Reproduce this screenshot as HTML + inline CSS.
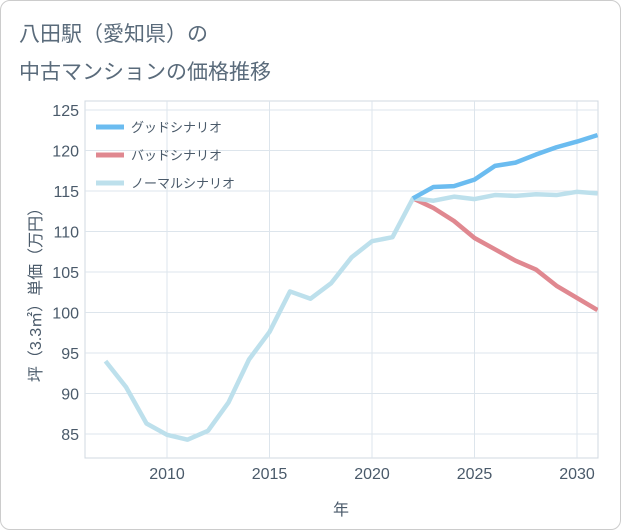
<!DOCTYPE html>
<html><head><meta charset="utf-8">
<style>
body{margin:0;background:#fff;font-family:"Liberation Sans","Noto Sans CJK JP",sans-serif;}
#card{position:absolute;left:0;top:0;width:619px;height:528px;border:1px solid #ccc;border-radius:10px;background:#fff;}
</style></head><body>
<div id="card">
<svg id="chart" width="621" height="530" style="position:absolute;left:0;top:0">
<text x="18" y="40" font-size="21" fill="#5a6b7b">八田駅（愛知県）の</text>
<text x="18" y="78" font-size="21" fill="#5a6b7b">中古マンションの価格推移</text>
</svg>
</div>
<script>
const years=[2007,2008,2009,2010,2011,2012,2013,2014,2015,2016,2017,2018,2019,2020,2021,2022,2023,2024,2025,2026,2027,2028,2029,2030,2031];
const normalVals=[94,90.8,86.3,84.9,84.3,85.4,88.9,94.2,97.6,102.6,101.7,103.6,106.8,108.8,109.3,114.1,113.8,114.3,114,114.5,114.4,114.6,114.5,114.9,114.7];
const scenarioYears=[2022,2023,2024,2025,2026,2027,2028,2029,2030,2031];
const goodVals=[114.1,115.5,115.6,116.4,118.1,118.5,119.5,120.4,121.1,121.9];
const badVals=[114.1,112.9,111.3,109.2,107.8,106.4,105.3,103.3,101.8,100.3];
const xTicks=[2010,2015,2020,2025,2030];
const yTicks=[85,90,95,100,105,110,115,120,125];
const seriesNames=["グッドシナリオ","バッドシナリオ","ノーマルシナリオ"];
const seriesColors=["#6bbcf0","#e08890","#bde0ec"];
const NS="http://www.w3.org/2000/svg";
const svg=document.getElementById('chart');
const L=84,R=597,T=100,B=457;
const x=v=>166+(v-2010)*20.5;
const y=v=>433+(85-v)*(433-109)/40;
function mk(t,a){const e=document.createElementNS(NS,t);for(const k in a)e.setAttribute(k,a[k]);svg.appendChild(e);return e;}
const bg=mk('rect',{x:L,y:T,width:R-L,height:B-T,fill:'#fff',stroke:'#d0d8e0'});


const clip=mk('clipPath',{id:'pc'});
const cr=document.createElementNS(NS,'rect');cr.setAttribute('x',L);cr.setAttribute('y',T);cr.setAttribute('width',R-L);cr.setAttribute('height',B-T);clip.appendChild(cr);
xTicks.forEach(v=>{
 const g=mk('line',{x1:x(v),x2:x(v),y1:T,y2:B,stroke:'#dde5ec'});
 
 
 const t=mk('text',{x:x(v),y:478,'font-size':16,fill:'#4a5a6a','text-anchor':'middle'});t.textContent=v;
 
 
});
yTicks.forEach(v=>{
 const g=mk('line',{x1:L,x2:R,y1:y(v),y2:y(v),stroke:'#dde5ec'});
 
 
 const t=mk('text',{x:78,y:y(v)+6,'font-size':16,fill:'#4a5a6a','text-anchor':'end'});t.textContent=v;
 
 
});
function line(xs,vs,c,name){
 const p=mk('polyline',{points:xs.map((d,i)=>x(d)+','+y(vs[i])).join(' '),fill:'none',stroke:c,'stroke-width':4.5,'stroke-linejoin':'round','clip-path':'url(#pc)'});
 
 
}
line(scenarioYears,badVals,seriesColors[1],'bad-scenario-line');
line(years,normalVals,seriesColors[2],'normal-scenario-line');
line(scenarioYears,goodVals,seriesColors[0],'good-scenario-line');
seriesNames.forEach((n,i)=>{
 const yy=126+i*28;
 const l=mk('line',{x1:95,x2:123,y1:yy,y2:yy,stroke:seriesColors[i],'stroke-width':5});
 
 
 const t=mk('text',{x:130,y:yy+5,'font-size':13,fill:'#4a5a6a'});t.textContent=n;
 
 
});
const xt=mk('text',{x:340,y:514,'font-size':16,fill:'#4a5a6a','text-anchor':'middle'});xt.textContent='年';


const yt=mk('text',{x:0,y:0,'font-size':16,fill:'#4a5a6a','text-anchor':'middle',transform:'translate(40,290) rotate(-90)'});yt.textContent='坪（3.3㎡）単価（万円）';


</script>
</body></html>
